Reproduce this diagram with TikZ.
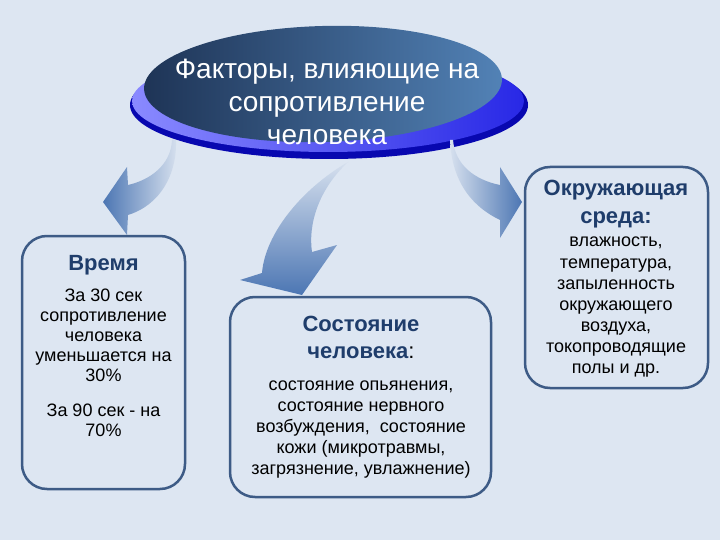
\documentclass[tikz,border=0pt]{standalone}
\usepackage{fontspec}
\setmainfont{Liberation Sans}
\usetikzlibrary{shadings}

\definecolor{slidebg}{HTML}{DDE6F2}
\definecolor{frameblue}{HTML}{3D5B86}
\definecolor{titleblue}{HTML}{1F3D6B}
\definecolor{arrowdark}{HTML}{4C76B3}
\definecolor{arrowlight}{HTML}{D6E0EE}
\definecolor{discrim}{HTML}{0808B0}
\definecolor{discleft}{HTML}{8A8AFF}
\definecolor{discright}{HTML}{2828E6}
\definecolor{ovalleft}{HTML}{1E3456}
\definecolor{ovalright}{HTML}{5282B6}

\begin{document}
\begin{tikzpicture}[x=1pt,y=-1pt]

	\tikzstyle factor box=[draw=frameblue, line width=2.5pt, rounded corners=25pt, fill=slidebg];
	\tikzstyle box title=[anchor=base, text=titleblue, font=\fontsize{22}{26}\selectfont\bfseries];
	\tikzstyle box text=[anchor=base, font=\fontsize{18}{20}\selectfont];
	\tikzstyle head text=[anchor=base, text=white, font=\fontsize{28}{33}\selectfont];

	\fill[slidebg] (0,0) rectangle (720,540);
	\useasboundingbox (0,0) rectangle (720,540);

		\fill[discrim] (329,105) ellipse [x radius=199, y radius=54];
		\shade[left color=discleft, right color=discright] (328,101) ellipse [x radius=196, y radius=51];
		\shade[left color=ovalleft, right color=ovalright, rotate around={1.6:(323,84)}]
			(323,84) ellipse [x radius=179, y radius=58];

		\foreach \y/\txt [count=\i] in {79/{Факторы, влияющие на},112/сопротивление,145/человека}
			\node[head text] (head\i) at (327,\y) {\txt};

		\shade[left color=arrowdark, right color=arrowlight]
			(172,140) .. controls (171,165) and (150,180) .. (128,185) -- (127,167) -- (103,202)
			-- (127,235) -- (128,215) .. controls (160,205) and (177,175) .. (176,140) -- cycle;
		\shade[top color=arrowlight, bottom color=arrowdark]
			(348,162) .. controls (300,190) and (265,235) .. (262,273) -- (240,280) -- (302,295)
			-- (337,245) -- (312,252) .. controls (308,225) and (318,190) .. (348,162) -- cycle;
		\shade[left color=arrowlight, right color=arrowdark]
			(450,140) .. controls (452,185) and (475,208) .. (500,220) -- (500,238) -- (522,202)
			-- (500,167) -- (500,185) .. controls (475,180) and (455,165) .. (453,140) -- cycle;

		\draw[factor box] (22,236) rectangle (185,489);
		\draw[factor box] (230,297) rectangle (491,497);
		\draw[factor box] (525,167) rectangle (708,388);

		\node[box title] (time) at (103.5,270) {Время};
		\foreach \y/\txt [count=\i] in {301/За 30 сек,321/сопротивление,341/человека,361/уменьшается на,381/30\%,416/За 90 сек - на,436/70\%}
			\node[box text] (time\i) at (103.5,\y) {\txt};

		\node[box title] (state1) at (361,331) {Состояние};
		\node[box title] (state2) at (361,358) {человека\textmd{\color{black}:}};
		\foreach \y/\txt [count=\i] in {390/{состояние опьянения,},411/состояние нервного,432/{возбуждения,~ состояние},453/{кожи (микротравмы,},474/{загрязнение, увлажнение)}}
			\node[box text] (state\i) at (361,\y) {\txt};

		\node[box title] (env1) at (616,196) {Окружающая};
		\node[box title] (env2) at (616,223) {среда:};
		\foreach \y/\txt [count=\i] in {247/{влажность,},268/{температура,},289/запыленность,310/окружающего,331/{воздуха,},352/токопроводящие,373/полы и др.}
			\node[box text] (env\i) at (616,\y) {\txt};

\end{tikzpicture}
\end{document}
